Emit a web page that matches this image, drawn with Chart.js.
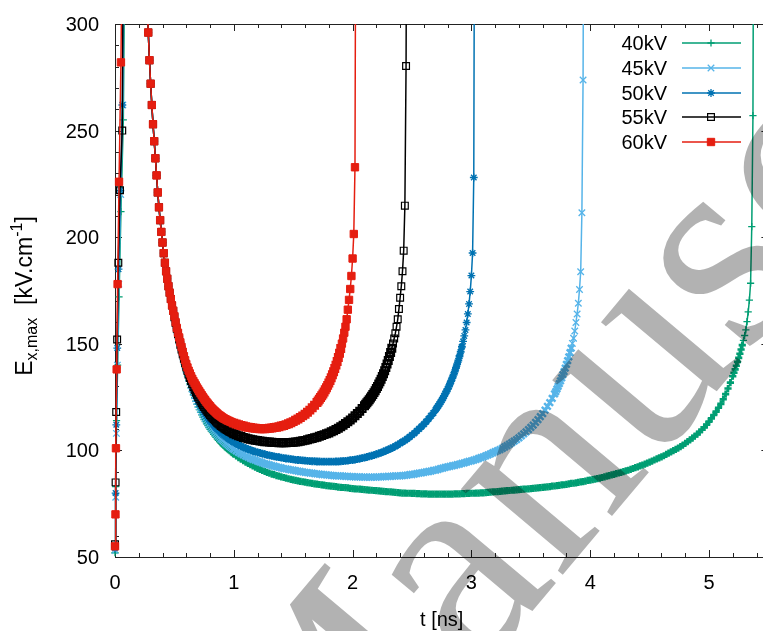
<!DOCTYPE html>
<html><head><meta charset="utf-8">
<script src="https://cdn.jsdelivr.net/npm/chart.js@4.4.1/dist/chart.umd.min.js"></script>
<style>
html,body{margin:0;padding:0;background:#fff;overflow:hidden;width:763px;height:631px}
#wrap{position:absolute;left:0;top:0;width:775px;height:631px}
</style></head><body>
<div id="wrap"><canvas id="c" width="775" height="631"></canvas></div>
<script>
// ---------------- DATA ----------------
const seriesLabels = ['40kV', '45kV', '50kV', '55kV', '60kV'];
const xTickLabels = ['0', '1', '2', '3', '4', '5'];
const yTickLabels = ['50', '100', '150', '200', '250', '300'];

// initial rise (t in ns, E in kV/cm)
const tHead40 = [0, 0.006, 0.013, 0.022, 0.034, 0.05, 0.07, 0.092];
const vHead40 = [52, 83, 114, 140, 172, 212, 255, 400];
const tHead45 = [0, 0.006, 0.012, 0.02, 0.032, 0.048, 0.066, 0.086];
const vHead45 = [53, 78, 108, 140, 178, 220, 262, 420];
const tHead50 = [0, 0.005, 0.011, 0.019, 0.03, 0.045, 0.062, 0.082];
const vHead50 = [54, 80, 112, 148, 185, 222, 262, 420];
const tHead55 = [0, 0.005, 0.01, 0.018, 0.028, 0.042, 0.061, 0.078];
const vHead55 = [56, 85, 118, 152, 188, 222, 250, 420];
const tHead60 = [0, 0.004, 0.008, 0.014, 0.022, 0.034, 0.05, 0.072];
const vHead60 = [55, 70, 101, 138, 178, 226, 282, 400];

// common steep descent
const tDesc = [0.27, 0.28, 0.29, 0.30, 0.31, 0.32, 0.33, 0.34, 0.35, 0.36, 0.37, 0.38,
  0.39, 0.40, 0.41, 0.42, 0.43, 0.44, 0.45, 0.46, 0.47, 0.48, 0.49];
const vDesc = [312, 296, 283, 272, 262, 253, 245, 237, 229, 221, 214, 208,
  202.5, 197.5, 192.5, 188, 184, 180.5, 177, 174, 171, 168, 165.5];

// fine section 0.50 .. 0.99 ns
const tFine = [
  0.50,0.51,0.52,0.53,0.54,0.55,0.56,0.57,0.58,0.59,
  0.60,0.61,0.62,0.63,0.64,0.65,0.66,0.67,0.68,0.69,
  0.70,0.71,0.72,0.73,0.74,0.75,0.76,0.77,0.78,0.79,
  0.80,0.81,0.82,0.83,0.84,0.85,0.86,0.87,0.88,0.89,
  0.90,0.91,0.92,0.93,0.94,0.95,0.96,0.97,0.98,0.99];
const vFine40 = [
  161.0,158.2,155.5,152.9,150.4,148.0,145.6,143.3,141.1,139.0,
  136.9,134.9,133.0,131.2,129.4,127.7,126.1,124.6,123.1,121.7,
  120.4,119.1,117.9,116.7,115.6,114.5,113.5,112.5,111.6,110.7,
  109.9,109.1,108.3,107.5,106.8,106.1,105.4,104.7,104.1,103.5,
  102.9,102.3,101.8,101.3,100.8,100.3,99.9,99.4,99.0,98.6];
const vFine45 = [
  161.5,158.7,156.0,153.5,151.0,148.6,146.2,143.9,141.7,139.6,
  137.6,135.7,133.8,132.0,130.3,128.7,127.1,125.6,124.2,122.9,
  121.6,120.4,119.2,118.1,117.0,116.0,115.0,114.1,113.2,112.3,
  111.5,110.7,110.0,109.3,108.6,107.9,107.3,106.7,106.1,105.5,
  105.0,104.5,104.0,103.5,103.0,102.5,102.1,101.7,101.3,100.9];
const vFine50 = [
  162.0,159.2,156.5,154.0,151.5,149.1,146.7,144.4,142.2,140.2,
  138.2,136.3,134.5,132.8,131.2,129.7,128.2,126.8,125.5,124.2,
  123.0,121.9,120.8,119.8,118.8,117.9,117.0,116.1,115.3,114.5,
  113.8,113.1,112.4,111.7,111.1,110.5,109.9,109.3,108.8,108.3,
  107.8,107.3,106.9,106.4,106.0,105.6,105.2,104.8,104.5,104.1];
const vFine55 = [
  162.5,159.7,157.0,154.5,152.0,149.6,147.3,145.1,143.0,141.0,
  139.0,137.2,135.5,134.0,132.5,131.1,129.7,128.4,127.2,126.1,
  125.0,124.0,123.0,122.1,121.2,120.3,119.5,118.7,118.0,117.3,
  116.6,115.9,115.3,114.7,114.1,113.5,113.0,112.5,112.0,111.5,
  111.1,110.7,110.3,109.9,109.6,109.2,108.9,108.6,108.3,108.0];
const vFine60 = [
  163.0,160.2,157.5,155.2,153.0,150.7,148.5,146.3,144.2,142.3,
  140.5,138.9,137.4,136.1,134.8,133.6,132.5,131.5,130.5,129.5,
  128.6,127.7,126.8,125.9,125.1,124.3,123.5,122.7,122.0,121.3,
  120.7,120.0,119.4,118.8,118.3,117.8,117.3,116.8,116.4,116.0,
  115.6,115.2,114.9,114.6,114.3,114.0,113.8,113.5,113.3,113.0];

// slow section from 1.00 ns, 0.02 ns spacing
const tGrid = [
  1.00,1.02,1.04,1.06,1.08,1.10,1.12,1.14,1.16,1.18,
  1.20,1.22,1.24,1.26,1.28,1.30,1.32,1.34,1.36,1.38,
  1.40,1.42,1.44,1.46,1.48,1.50,1.52,1.54,1.56,1.58,
  1.60,1.62,1.64,1.66,1.68,1.70,1.72,1.74,1.76,1.78,
  1.80,1.82,1.84,1.86,1.88,1.90,1.92,1.94,1.96,1.98,
  2.00,2.02,2.04,2.06,2.08,2.10,2.12,2.14,2.16,2.18,
  2.20,2.22,2.24,2.26,2.28,2.30,2.32,2.34,2.36,2.38,
  2.40,2.42,2.44,2.46,2.48,2.50,2.52,2.54,2.56,2.58,
  2.60,2.62,2.64,2.66,2.68,2.70,2.72,2.74,2.76,2.78,
  2.80,2.82,2.84,2.86,2.88,2.90,2.92,2.94,2.96,2.98,
  3.00,3.02,3.04,3.06,3.08,3.10,3.12,3.14,3.16,3.18,
  3.20,3.22,3.24,3.26,3.28,3.30,3.32,3.34,3.36,3.38,
  3.40,3.42,3.44,3.46,3.48,3.50,3.52,3.54,3.56,3.58,
  3.60,3.62,3.64,3.66,3.68,3.70,3.72,3.74,3.76,3.78,
  3.80,3.82,3.84,3.86,3.88,3.90,3.92,3.94,3.96,3.98,
  4.00,4.02,4.04,4.06,4.08,4.10,4.12,4.14,4.16,4.18,
  4.20,4.22,4.24,4.26,4.28,4.30,4.32,4.34,4.36,4.38,
  4.40,4.42,4.44,4.46,4.48,4.50,4.52,4.54,4.56,4.58,
  4.60,4.62,4.64,4.66,4.68,4.70,4.72,4.74,4.76,4.78,
  4.80,4.82,4.84,4.86,4.88,4.90,4.92,4.94,4.96,4.98,
  5.00,5.02,5.04,5.06,5.08,5.10,5.12,5.14,5.16,5.18];

const vBody40 = [
  98.2,97.4,96.6,95.9,95.2,94.5,93.9,93.3,92.7,92.1,
  91.6,91.1,90.6,90.1,89.7,89.3,88.9,88.6,88.2,87.9,
  87.6,87.3,87.0,86.7,86.4,86.2,85.9,85.7,85.5,85.3,
  85.1,84.9,84.7,84.5,84.3,84.2,84.0,83.8,83.7,83.5,
  83.4,83.2,83.1,83.0,82.8,82.7,82.6,82.5,82.4,82.2,
  82.1,82.0,81.9,81.8,81.7,81.6,81.5,81.4,81.3,81.2,
  81.1,81.0,80.9,80.8,80.7,80.6,80.5,80.4,80.3,80.2,
  80.1,80.0,80.0,79.9,79.9,79.8,79.8,79.7,79.7,79.6,
  79.6,79.6,79.5,79.5,79.5,79.5,79.5,79.5,79.5,79.5,
  79.5,79.5,79.5,79.6,79.6,79.6,79.7,79.7,79.8,79.8,
  79.9,79.9,80.0,80.0,80.1,80.1,80.2,80.3,80.4,80.5,
  80.6,80.7,80.8,80.9,81.0,81.1,81.2,81.3,81.4,81.5,
  81.6,81.7,81.8,81.9,82.0,82.1,82.2,82.3,82.4,82.5,
  82.7,82.8,82.9,83.0,83.2,83.3,83.5,83.6,83.8,83.9,
  84.1,84.3,84.5,84.6,84.8,85.0,85.2,85.4,85.6,85.9,
  86.1,86.3,86.5,86.8,87.0,87.3,87.6,87.9,88.2,88.5,
  88.8,89.1,89.4,89.7,90.0,90.4,90.7,91.1,91.5,91.9,
  92.3,92.7,93.1,93.6,94.0,94.5,95.0,95.5,96.0,96.5,
  97.0,97.5,98.1,98.7,99.3,99.9,100.5,101.1,101.8,102.5,
  103.3,104.1,104.9,105.8,106.7,107.6,108.6,109.7,110.8,112.1,
  113.5,115.0,116.6,118.2,120.0,121.8,124.0,126.4,129.0,131.8];
const vBody45 = [
  100.5,99.8,99.1,98.5,97.9,97.3,96.8,96.3,95.8,95.4,
  95.0,94.6,94.2,93.8,93.5,93.2,92.9,92.6,92.3,92.0,
  91.8,91.5,91.3,91.1,90.9,90.7,90.5,90.3,90.1,89.9,
  89.7,89.6,89.4,89.3,89.1,89.0,88.9,88.7,88.6,88.5,
  88.4,88.3,88.2,88.1,88.0,88.0,87.9,87.8,87.8,87.7,
  87.7,87.6,87.6,87.6,87.5,87.5,87.5,87.5,87.5,87.5,
  87.5,87.6,87.6,87.7,87.7,87.8,87.8,87.9,88.0,88.0,
  88.1,88.2,88.3,88.4,88.6,88.7,88.9,89.1,89.3,89.5,
  89.7,89.9,90.1,90.3,90.6,90.8,91.1,91.4,91.7,92.0,
  92.3,92.5,92.8,93.0,93.3,93.6,93.9,94.2,94.5,94.8,
  95.1,95.4,95.8,96.2,96.6,97.0,97.4,97.9,98.4,98.9,
  99.4,99.9,100.4,101.0,101.6,102.2,102.9,103.6,104.3,105.1,
  105.9,106.8,107.7,108.7,109.7,110.8,111.9,113.1,114.4,115.8,
  117.3,118.9,120.6,122.4,124.4];
const vBody50 = [
  103.8,103.2,102.6,102.0,101.5,101.0,100.6,100.2,99.8,99.4,
  99.1,98.8,98.5,98.2,97.9,97.7,97.4,97.2,97.0,96.8,
  96.6,96.4,96.2,96.1,95.9,95.8,95.6,95.5,95.4,95.3,
  95.2,95.1,95.0,94.9,94.9,94.8,94.8,94.7,94.7,94.7,
  94.7,94.7,94.7,94.8,94.8,94.9,95.0,95.1,95.2,95.4,
  95.5,95.7,95.9,96.1,96.4,96.6,96.9,97.2,97.5,97.8,
  98.2,98.6,99.0,99.4,99.9,100.4,100.9,101.4,102.0,102.6,
  103.3,104.0,104.7,105.5,106.3,107.2,108.1,109.1,110.1,111.2,
  112.3,113.5,114.8,116.2,117.6];
const vBody55 = [
  107.8,107.3,106.9,106.5,106.1,105.8,105.5,105.2,105.0,104.8,
  104.6,104.4,104.3,104.1,104.0,103.9,103.8,103.7,103.7,103.6,
  103.6,103.6,103.6,103.7,103.7,103.8,103.9,104.1,104.3,104.5,
  104.7,105.0,105.3,105.6,105.9,106.2,106.6,107.0,107.4,107.8,
  108.2,108.7,109.2,109.8,110.4,111.1,111.8,112.6,113.4,114.3,
  115.2,116.2,117.3,118.4,119.6];
const vBody60 = [
  112.8,112.4,112.0,111.7,111.4,111.1,110.9,110.7,110.5,110.4,
  110.3,110.2,110.2,110.2,110.3,110.4,110.5,110.7,110.9,111.1,
  111.4,111.7,112.1,112.5,113.0,113.5,114.1,114.7,115.4,116.2,
  117.0,117.9,118.9,120.0,121.2];

// final blow-up, 0.01 ns spacing
const tTail40 = [5.20,5.21,5.22,5.23,5.24,5.25,5.26,5.27,5.28,5.29,
  5.30,5.31,5.32,5.33,5.34,5.35,5.36,5.37,5.38];
const vTail40 = [134.8,136.4,138.0,139.7,141.5,143.4,145.3,147.3,149.4,151.6,
  153.9,156.5,160.4,165,170.5,178.4,205,257,460];
const tTail45 = [3.70,3.71,3.72,3.73,3.74,3.75,3.76,3.77,3.78,3.79,
  3.80,3.81,3.82,3.83,3.84,3.85,3.86,3.87,3.88,3.89,
  3.90,3.91,3.92,3.93,3.94,3.95];
const vTail45 = [126.5,127.6,128.8,130.0,131.3,132.6,134.0,135.5,137.0,138.6,
  140.3,142.1,143.9,145.9,148.0,150.2,152.6,156,160,164,
  169,175.5,183.8,211.5,273.7,460];
const tTail50 = [2.70,2.71,2.72,2.73,2.74,2.75,2.76,2.77,2.78,2.79,
  2.80,2.81,2.82,2.83,2.84,2.85,2.86,2.87,2.88,2.89,
  2.90,2.91,2.92,2.93,2.94,2.95,2.96,2.97,2.98,2.99,
  3.00,3.01,3.02,3.03];
const vTail50 = [119.2,120.0,120.8,121.7,122.6,123.5,124.5,125.5,126.6,127.7,
  128.8,130.0,131.3,132.6,134.0,135.5,137.0,138.7,140.4,142.2,
  144.2,146.3,148.6,151.1,153.7,156.5,160,164,168.7,174.5,
  182,192.6,228,450];
const tTail55 = [2.10,2.11,2.12,2.13,2.14,2.15,2.16,2.17,2.18,2.19,
  2.20,2.21,2.22,2.23,2.24,2.25,2.26,2.27,2.28,2.29,
  2.30,2.31,2.32,2.33,2.34,2.35,2.36,2.37,2.38,2.39,
  2.40,2.41,2.42,2.43,2.44,2.45,2.46];
const vTail55 = [120.9,121.6,122.3,123.0,123.8,124.6,125.4,126.2,127.1,128.0,
  129.0,130.0,131.1,132.2,133.4,134.7,136.0,137.4,138.9,140.5,
  142.2,144.0,145.9,147.9,150.1,152.5,155.0,158,161.5,166.3,
  171.6,177,184,193.7,214.8,280.3,450];
const tTail60 = [1.70,1.71,1.72,1.73,1.74,1.75,1.76,1.77,1.78,1.79,
  1.80,1.81,1.82,1.83,1.84,1.85,1.86,1.87,1.88,1.89,
  1.90,1.91,1.92,1.93,1.94,1.95,1.96,1.97,1.98,1.99,
  2.00,2.01,2.02,2.03];
const vTail60 = [122.5,123.2,124.0,124.8,125.6,126.5,127.4,128.4,129.4,130.5,
  131.6,132.8,134.1,135.5,136.9,138.4,140.0,141.7,143.6,145.6,
  147.8,150.1,152.5,155.2,158.0,161.5,166,170.6,175.7,181.8,
  190,201.5,232.8,430];

// ---------------- BUILD ----------------
// g:1 marks samples that belong to the 0.02 ns section (drawn with heavier glyph strokes)
function buildSeries(tHead, vHead, vFine, vBody, tTail, vTail) {
  const pts = [];
  tHead.forEach((t, i) => pts.push({x: t, y: vHead[i]}));
  tDesc.forEach((t, i) => pts.push({x: t, y: vDesc[i]}));
  vFine.forEach((v, i) => pts.push({x: tFine[i], y: v}));
  vBody.forEach((v, i) => pts.push({x: tGrid[i], y: v, g: 1}));
  tTail.forEach((t, i) => pts.push({x: t, y: vTail[i], g: vTail[i] < 150 ? 1 : 0}));
  return pts;
}

const styles = {
  '40kV': {color: '#009e73', pointStyle: 'cross', r: 3.6, bw: 1.3, bwG: 2.6, fill: '#009e73'},
  '45kV': {color: '#56b4e9', pointStyle: 'crossRot', r: 4.6, bw: 1.3, bwG: 2.5, fill: '#56b4e9'},
  '50kV': {color: '#0072b2', pointStyle: 'star', r: 3.9, bw: 1.3, bwG: 2.1, fill: '#0072b2'},
  '55kV': {color: '#000000', pointStyle: 'rect', r: 4.8, bw: 1.2, bwG: 2.2, fill: 'rgba(255,255,255,0)'},
  '60kV': {color: '#e51e10', pointStyle: 'rect', r: 5.2, bw: 1, bwG: 1.6, fill: '#e51e10'}
};

const raw = {
  '40kV': buildSeries(tHead40, vHead40, vFine40, vBody40, tTail40, vTail40),
  '45kV': buildSeries(tHead45, vHead45, vFine45, vBody45, tTail45, vTail45),
  '50kV': buildSeries(tHead50, vHead50, vFine50, vBody50, tTail50, vTail50),
  '55kV': buildSeries(tHead55, vHead55, vFine55, vBody55, tTail55, vTail55),
  '60kV': buildSeries(tHead60, vHead60, vFine60, vBody60, tTail60, vTail60)
};

// dataset 0 is drawn on top in Chart.js -> put 60kV first
const datasets = seriesLabels.slice().reverse().map(lab => {
  const s = styles[lab];
  return {
    label: lab, data: raw[lab],
    borderColor: s.color, backgroundColor: s.fill,
    borderWidth: 1.5, tension: 0,
    pointStyle: s.pointStyle, pointRadius: s.r, pointHoverRadius: s.r,
    pointBorderColor: s.color, pointBackgroundColor: s.fill,
    pointBorderWidth: c => (c.raw && c.raw.g) ? s.bwG : s.bw,
    clip: {left: 6, top: 0, right: 0, bottom: 6}
  };
});

const FONT = '"Liberation Sans", Arial, sans-serif';
const CW = 775, CH = 631;
const AREA = {left: 115, top: 24, right: 768.4, bottom: 557};

const axesPlugin = {
  id: 'gnuAxes',
  beforeDatasetsDraw(chart) {
    const {ctx} = chart;
    const xs = chart.scales.x, ys = chart.scales.y;
    const L = xs.getPixelForValue(0), R = xs.getPixelForValue(5.5);
    const T = ys.getPixelForValue(300), B = ys.getPixelForValue(50);
    ctx.save();
    ctx.strokeStyle = '#222';
    ctx.lineWidth = 1;
    ctx.beginPath();
    ctx.rect(Math.round(L) + 0.5, Math.round(T) + 0.5, Math.round(R) - Math.round(L), Math.round(B) - Math.round(T));
    ctx.stroke();
    ctx.beginPath();
    for (let k = 0; k <= 27; k++) {
      const v = k * 0.2;
      const major = (k % 5 === 0);
      const len = major ? 7 : 4;
      const px = Math.round(xs.getPixelForValue(v)) + 0.5;
      ctx.moveTo(px, B); ctx.lineTo(px, B - len);
      ctx.moveTo(px, T); ctx.lineTo(px, T + len);
    }
    for (let v = 50; v <= 300; v += 10) {
      const major = (v % 50 === 0);
      const len = major ? 7 : 4;
      const py = Math.round(ys.getPixelForValue(v)) + 0.5;
      ctx.moveTo(L, py); ctx.lineTo(L + len, py);
      ctx.moveTo(R, py); ctx.lineTo(R - len, py);
    }
    ctx.stroke();
    ctx.fillStyle = '#000';
    ctx.font = '20px ' + FONT;
    ctx.textAlign = 'center';
    ctx.textBaseline = 'alphabetic';
    xTickLabels.forEach(lab => {
      const px = xs.getPixelForValue(parseFloat(lab));
      ctx.fillText(lab, px, B + 32);
    });
    ctx.textAlign = 'right';
    yTickLabels.forEach(lab => {
      const py = ys.getPixelForValue(parseFloat(lab));
      ctx.fillText(lab, L - 16, py + 7);
    });
    ctx.textAlign = 'center';
    ctx.fillText('t [ns]', (L + R) / 2, B + 69);
    // y title with sub/superscripts
    ctx.save();
    ctx.translate(32, 296);
    ctx.rotate(-Math.PI / 2);
    const parts = [
      {t: 'E', s: 23, dy: 0},
      {t: 'x,max', s: 16, dy: 5},
      {t: '  [kV.cm', s: 23, dy: 0},
      {t: '-1', s: 16, dy: -10},
      {t: ']', s: 23, dy: 0}
    ];
    let total = 0;
    parts.forEach(p => { ctx.font = p.s + 'px ' + FONT; p.w = ctx.measureText(p.t).width; total += p.w; });
    let x0 = -total / 2;
    ctx.textAlign = 'left';
    parts.forEach(p => { ctx.font = p.s + 'px ' + FONT; ctx.fillText(p.t, x0, p.dy); x0 += p.w; });
    ctx.restore();
    ctx.restore();
  }
};

const legendPlugin = {
  id: 'gnuLegend',
  afterDatasetsDraw(chart) {
    const {ctx} = chart;
    const rows = [43, 68, 93, 117, 142];
    ctx.save();
    seriesLabels.forEach((lab, i) => {
      const s = styles[lab];
      const y = rows[i];
      ctx.fillStyle = '#000';
      ctx.font = '20px ' + FONT;
      ctx.textAlign = 'right';
      ctx.textBaseline = 'alphabetic';
      ctx.fillText(lab, 667, y + 7);
      ctx.strokeStyle = s.color;
      ctx.lineWidth = 1.5;
      ctx.beginPath(); ctx.moveTo(682, y); ctx.lineTo(741, y); ctx.stroke();
      ctx.fillStyle = s.fill;
      ctx.strokeStyle = s.color;
      ctx.lineWidth = s.bw;
      Chart.helpers.drawPoint(ctx, {pointStyle: s.pointStyle, radius: s.r, borderWidth: s.bw, rotation: 0}, 711, y);
    });
    ctx.restore();
  }
};

const watermarkPlugin = {
  id: 'watermark',
  afterDraw(chart) {
    const {ctx} = chart;
    ctx.save();
    ctx.translate(310, 876);
    ctx.rotate(-50 * Math.PI / 180);
    ctx.font = '290px "Liberation Serif", "DejaVu Serif", serif';
    ctx.fillStyle = 'rgba(0,0,0,0.3)';
    ctx.textAlign = 'left';
    ctx.textBaseline = 'alphabetic';
    ctx.fillText('Manuscript', 0, 0);
    ctx.restore();
  }
};

new Chart(document.getElementById('c').getContext('2d'), {
  type: 'line',
  data: {datasets},
  options: {
    responsive: false,
    animation: false,
    devicePixelRatio: 1,
    events: [],
    layout: {padding: {left: AREA.left, top: AREA.top, right: CW - AREA.right, bottom: CH - AREA.bottom}},
    scales: {
      x: {type: 'linear', min: 0, max: 5.5, display: false},
      y: {type: 'linear', min: 50, max: 300, display: false}
    },
    plugins: {legend: {display: false}, tooltip: {enabled: false}}
  },
  plugins: [axesPlugin, legendPlugin, watermarkPlugin]
});
</script>
</body></html>
